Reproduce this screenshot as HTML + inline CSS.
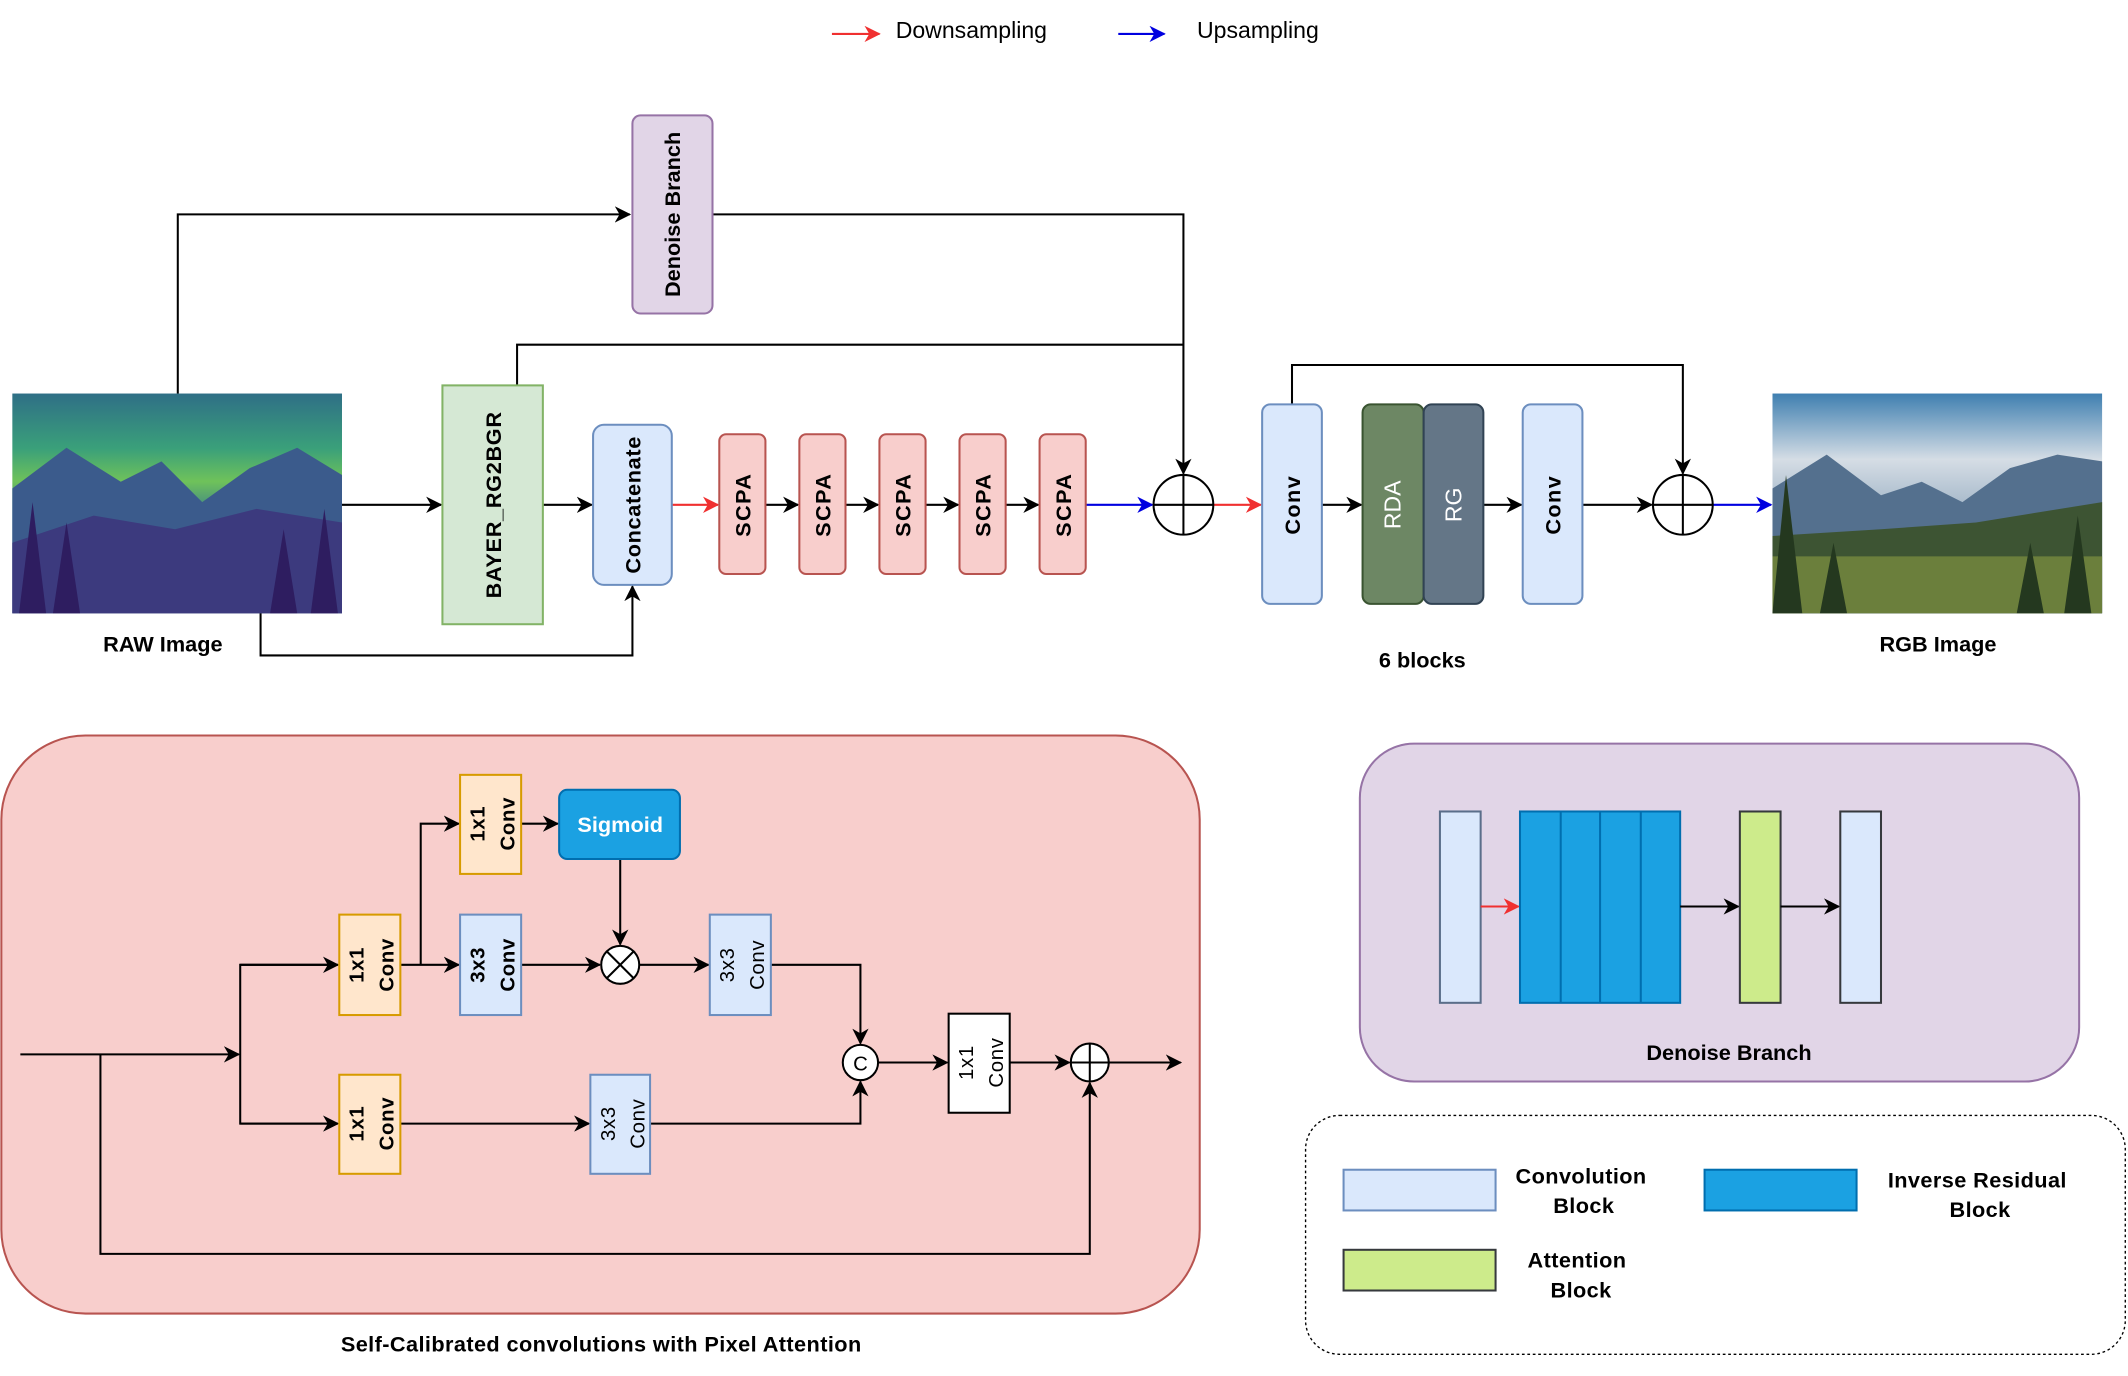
<!DOCTYPE html>
<html><head><meta charset="utf-8"><style>
html,body{margin:0;padding:0;background:#fff;}
svg{display:block;}
text{font-family:"Liberation Sans",Arial,sans-serif;}
.b{font-weight:bold;}
</style></head><body>
<svg width="2128" height="1376" viewBox="0 0 1568 1014" preserveAspectRatio="none" xmlns="http://www.w3.org/2000/svg">
<defs>
<marker id="ak" markerWidth="12" markerHeight="12" refX="11" refY="6" orient="auto" markerUnits="userSpaceOnUse"><path d="M0,0 L12,6 L0,12 L3.5,6 z" fill="#000"/></marker>
<marker id="ar" markerWidth="12" markerHeight="12" refX="11" refY="6" orient="auto" markerUnits="userSpaceOnUse"><path d="M0,0 L12,6 L0,12 L3.5,6 z" fill="#f03030"/></marker>
<marker id="ab" markerWidth="12" markerHeight="12" refX="11" refY="6" orient="auto" markerUnits="userSpaceOnUse"><path d="M0,0 L12,6 L0,12 L3.5,6 z" fill="#0000e0"/></marker>
<linearGradient id="raw" x1="0" y1="0" x2="0" y2="1">
<stop offset="0" stop-color="#2f6f86"/><stop offset="0.25" stop-color="#3aa07a"/><stop offset="0.4" stop-color="#6fc25a"/><stop offset="0.55" stop-color="#3a7e8a"/><stop offset="1" stop-color="#35236a"/></linearGradient>
<linearGradient id="rgb" x1="0" y1="0" x2="0" y2="1">
<stop offset="0" stop-color="#3f7fb0"/><stop offset="0.3" stop-color="#d5dde5"/><stop offset="0.55" stop-color="#9fb3c6"/><stop offset="1" stop-color="#8a9a70"/></linearGradient>
</defs>

<!-- legend top -->
<line x1="613" y1="25" x2="648" y2="25" stroke="#f03030" stroke-width="1.5" marker-end="url(#ar)"/>
<text x="660" y="28" font-size="17">Downsampling</text>
<line x1="824" y1="25" x2="858" y2="25" stroke="#0000e0" stroke-width="1.5" marker-end="url(#ab)"/>
<text x="882" y="28" font-size="17">Upsampling</text>

<!-- images -->
<svg x="9" y="290" width="243" height="162" viewBox="0 0 243 162" preserveAspectRatio="none">
<rect width="243" height="162" fill="url(#raw)"/>
<polygon points="0,70 40,40 80,65 110,50 140,80 175,55 210,40 243,60 243,162 0,162" fill="#3b5b8c"/>
<polygon points="0,110 60,90 120,100 180,85 243,95 243,162 0,162" fill="#3c3a7e"/>
<polygon points="5,162 15,80 25,162 30,162 40,95 50,162 190,162 200,100 210,162 220,162 230,85 240,162" fill="#2e1d60"/>
</svg>
<svg x="1306" y="290" width="243" height="162" viewBox="0 0 243 162" preserveAspectRatio="none">
<rect width="243" height="162" fill="url(#rgb)"/>
<polygon points="0,70 40,45 80,75 110,65 140,80 175,55 210,45 243,50 243,162 0,162" fill="#54708e"/>
<polygon points="0,105 80,100 150,95 243,80 243,162 0,162" fill="#3d5433"/>
<rect x="0" y="120" width="243" height="42" fill="#6b7f3c"/>
<polygon points="0,162 10,60 22,162 35,162 45,110 55,162 180,162 190,110 200,162 215,162 225,90 235,162" fill="#24381f"/>
</svg>
<text x="120" y="480" font-size="16" class="b" text-anchor="middle">RAW Image</text>
<text x="1428" y="480" font-size="16" class="b" text-anchor="middle">RGB Image</text>
<text x="1048" y="492" font-size="16" class="b" text-anchor="middle">6 blocks</text>

<!-- connectors top -->
<g fill="none" stroke="#000" stroke-width="1.5">
<polyline points="131,290 131,158 464,158" marker-end="url(#ak)"/>
<polyline points="525,158 872,158 872,349" marker-end="url(#ak)"/>
<polyline points="381,284 381,254 872,254"/>
<line x1="252" y1="372" x2="325" y2="372" marker-end="url(#ak)"/>
<line x1="400" y1="372" x2="436" y2="372" marker-end="url(#ak)"/>
<polyline points="192,452 192,483 466,483 466,432" marker-end="url(#ak)"/>
<line x1="564" y1="372" x2="588" y2="372" marker-end="url(#ak)"/>
<line x1="623" y1="372" x2="647" y2="372" marker-end="url(#ak)"/>
<line x1="682" y1="372" x2="706" y2="372" marker-end="url(#ak)"/>
<line x1="741" y1="372" x2="765" y2="372" marker-end="url(#ak)"/>
<line x1="974" y1="372" x2="1003" y2="372" marker-end="url(#ak)"/>
<line x1="1093" y1="372" x2="1121" y2="372" marker-end="url(#ak)"/>
<line x1="1166" y1="372" x2="1217" y2="372" marker-end="url(#ak)"/>
<polyline points="952,298 952,269 1240,269 1240,349" marker-end="url(#ak)"/>
</g>
<line x1="495" y1="372" x2="529" y2="372" stroke="#f03030" stroke-width="1.5" marker-end="url(#ar)"/>
<line x1="800" y1="372" x2="849" y2="372" stroke="#0000e0" stroke-width="1.5" marker-end="url(#ab)"/>
<line x1="894" y1="372" x2="929" y2="372" stroke="#f03030" stroke-width="1.5" marker-end="url(#ar)"/>
<line x1="1262" y1="372" x2="1305" y2="372" stroke="#0000e0" stroke-width="1.5" marker-end="url(#ab)"/>

<!-- boxes top -->
<rect x="466" y="85" width="59" height="146" rx="6" fill="#e1d5e7" stroke="#9673a6" stroke-width="1.5"/>
<text transform="translate(501,158) rotate(-90)" font-size="16" class="b" text-anchor="middle">Denoise Branch</text>
<rect x="326" y="284" width="74" height="176" fill="#d5e8d4" stroke="#82b366" stroke-width="1.5"/>
<text transform="translate(369,372) rotate(-90)" font-size="16" class="b" text-anchor="middle" letter-spacing="0.5">BAYER_RG2BGR</text>
<rect x="437" y="313" width="58" height="118" rx="8" fill="#dae8fc" stroke="#6c8ebf" stroke-width="1.5"/>
<text transform="translate(472,372) rotate(-90)" font-size="16" class="b" text-anchor="middle" letter-spacing="0.5">Concatenate</text>
<g fill="#f8cecc" stroke="#b85450" stroke-width="1.5">
<rect x="530" y="320" width="34" height="103" rx="5"/><rect x="589" y="320" width="34" height="103" rx="5"/><rect x="648" y="320" width="34" height="103" rx="5"/><rect x="707" y="320" width="34" height="103" rx="5"/><rect x="766" y="320" width="34" height="103" rx="5"/>
</g>
<g font-size="16" class="b" text-anchor="middle" letter-spacing="1">
<text transform="translate(553,372) rotate(-90)">SCPA</text>
<text transform="translate(612,372) rotate(-90)">SCPA</text>
<text transform="translate(671,372) rotate(-90)">SCPA</text>
<text transform="translate(730,372) rotate(-90)">SCPA</text>
<text transform="translate(789,372) rotate(-90)">SCPA</text>
</g>
<circle cx="872" cy="372" r="22" fill="#fff" stroke="#000" stroke-width="1.5"/>
<line x1="850" y1="372" x2="894" y2="372" stroke="#000" stroke-width="1.5"/><line x1="872" y1="350" x2="872" y2="394" stroke="#000" stroke-width="1.5"/>
<rect x="930" y="298" width="44" height="147" rx="6" fill="#dae8fc" stroke="#6c8ebf" stroke-width="1.5"/>
<text transform="translate(958,372) rotate(-90)" font-size="16" class="b" text-anchor="middle" letter-spacing="1">Conv</text>
<rect x="1004" y="298" width="45" height="147" rx="6" fill="#6d8764" stroke="#3a5431" stroke-width="1.5"/>
<rect x="1049" y="298" width="44" height="147" rx="6" fill="#647687" stroke="#314354" stroke-width="1.5"/>
<text transform="translate(1032,372) rotate(-90)" font-size="17" fill="#fff" text-anchor="middle">RDA</text>
<text transform="translate(1077,372) rotate(-90)" font-size="17" fill="#fff" text-anchor="middle">RG</text>
<rect x="1122" y="298" width="44" height="147" rx="6" fill="#dae8fc" stroke="#6c8ebf" stroke-width="1.5"/>
<text transform="translate(1150,372) rotate(-90)" font-size="16" class="b" text-anchor="middle" letter-spacing="1">Conv</text>
<circle cx="1240" cy="372" r="22" fill="#fff" stroke="#000" stroke-width="1.5"/>
<line x1="1218" y1="372" x2="1262" y2="372" stroke="#000" stroke-width="1.5"/><line x1="1240" y1="350" x2="1240" y2="394" stroke="#000" stroke-width="1.5"/>

<!-- SCPA panel -->
<rect x="1" y="542" width="883" height="426" rx="62" fill="#f8cecc" stroke="#b85450" stroke-width="1.5"/>
<text x="443" y="996" font-size="16" class="b" text-anchor="middle" letter-spacing="0.3">Self-Calibrated convolutions with Pixel Attention</text>
<g fill="none" stroke="#000" stroke-width="1.5">
<line x1="15" y1="777" x2="176" y2="777" marker-end="url(#ak)"/>
<polyline points="74,777 74,924 803,924 803,798" marker-end="url(#ak)"/>
<polyline points="248,711 177,711 177,828 248,828"/>
<line x1="177" y1="711" x2="249" y2="711" marker-end="url(#ak)"/>
<line x1="177" y1="828" x2="249" y2="828" marker-end="url(#ak)"/>
<line x1="295" y1="711" x2="338" y2="711" marker-end="url(#ak)"/>
<polyline points="310,711 310,607 338,607" marker-end="url(#ak)"/>
<line x1="384" y1="607" x2="411" y2="607" marker-end="url(#ak)"/>
<line x1="457" y1="633" x2="457" y2="696" marker-end="url(#ak)"/>
<line x1="384" y1="711" x2="442" y2="711" marker-end="url(#ak)"/>
<line x1="471" y1="711" x2="522" y2="711" marker-end="url(#ak)"/>
<polyline points="568,711 634,711 634,769" marker-end="url(#ak)"/>
<line x1="295" y1="828" x2="434" y2="828" marker-end="url(#ak)"/>
<polyline points="479,828 634,828 634,797" marker-end="url(#ak)"/>
<line x1="647" y1="783" x2="698" y2="783" marker-end="url(#ak)"/>
<line x1="744" y1="783" x2="788" y2="783" marker-end="url(#ak)"/>
<line x1="817" y1="783" x2="870" y2="783" marker-end="url(#ak)"/>
</g>
<g stroke-width="1.5">
<rect x="250" y="674" width="45" height="74" fill="#ffe6cc" stroke="#d79b00"/>
<rect x="339" y="571" width="45" height="73" fill="#ffe6cc" stroke="#d79b00"/>
<rect x="250" y="792" width="45" height="73" fill="#ffe6cc" stroke="#d79b00"/>
<rect x="339" y="674" width="45" height="74" fill="#dae8fc" stroke="#6c8ebf"/>
<rect x="523" y="674" width="45" height="74" fill="#dae8fc" stroke="#6c8ebf"/>
<rect x="435" y="792" width="44" height="73" fill="#dae8fc" stroke="#6c8ebf"/>
<rect x="699" y="747" width="45" height="73" fill="#fff" stroke="#000"/>
<rect x="412" y="582" width="89" height="51" rx="6" fill="#1ba1e2" stroke="#006eaf"/>
</g>
<text x="457" y="613" font-size="16" class="b" fill="#fff" text-anchor="middle">Sigmoid</text>
<g font-size="15" text-anchor="middle" letter-spacing="0.5">
<text transform="translate(268,711) rotate(-90)" class="b">1x1</text><text transform="translate(290,711) rotate(-90)" class="b">Conv</text>
<text transform="translate(357,607) rotate(-90)" class="b">1x1</text><text transform="translate(379,607) rotate(-90)" class="b">Conv</text>
<text transform="translate(268,828) rotate(-90)" class="b">1x1</text><text transform="translate(290,828) rotate(-90)" class="b">Conv</text>
<text transform="translate(357,711) rotate(-90)" class="b">3x3</text><text transform="translate(379,711) rotate(-90)" class="b">Conv</text>
<text transform="translate(541,711) rotate(-90)">3x3</text><text transform="translate(563,711) rotate(-90)">Conv</text>
<text transform="translate(453,828) rotate(-90)">3x3</text><text transform="translate(475,828) rotate(-90)">Conv</text>
<text transform="translate(717,783) rotate(-90)">1x1</text><text transform="translate(739,783) rotate(-90)">Conv</text>
</g>
<circle cx="457" cy="711" r="14" fill="#fff" stroke="#000" stroke-width="1.5"/>
<line x1="447" y1="701" x2="467" y2="721" stroke="#000" stroke-width="1.5"/><line x1="467" y1="701" x2="447" y2="721" stroke="#000" stroke-width="1.5"/>
<circle cx="634" cy="783" r="13" fill="#fff" stroke="#000" stroke-width="1.5"/>
<text x="634" y="789" font-size="15" text-anchor="middle">C</text>
<circle cx="803" cy="783" r="14" fill="#fff" stroke="#000" stroke-width="1.5"/>
<line x1="789" y1="783" x2="817" y2="783" stroke="#000" stroke-width="1.5"/><line x1="803" y1="769" x2="803" y2="797" stroke="#000" stroke-width="1.5"/>

<!-- Denoise panel -->
<rect x="1002" y="548" width="530" height="249" rx="40" fill="#e1d5e7" stroke="#9673a6" stroke-width="1.5"/>
<text x="1274" y="781" font-size="16" class="b" text-anchor="middle">Denoise Branch</text>
<rect x="1061" y="598" width="30" height="141" fill="#dae8fc" stroke="#5a6e8a" stroke-width="1.5"/>
<line x1="1091" y1="668" x2="1119" y2="668" stroke="#f03030" stroke-width="1.5" marker-end="url(#ar)"/>
<rect x="1120" y="598" width="118" height="141" fill="#1ba1e2" stroke="#006eaf" stroke-width="1.5"/>
<g stroke="#006eaf" stroke-width="1.5"><line x1="1150" y1="598" x2="1150" y2="739"/><line x1="1179" y1="598" x2="1179" y2="739"/><line x1="1209" y1="598" x2="1209" y2="739"/></g>
<line x1="1238" y1="668" x2="1281" y2="668" stroke="#000" stroke-width="1.5" marker-end="url(#ak)"/>
<rect x="1282" y="598" width="30" height="141" fill="#cdeb8b" stroke="#36393d" stroke-width="1.5"/>
<line x1="1312" y1="668" x2="1355" y2="668" stroke="#000" stroke-width="1.5" marker-end="url(#ak)"/>
<rect x="1356" y="598" width="30" height="141" fill="#dae8fc" stroke="#36393d" stroke-width="1.5"/>

<!-- legend box -->
<rect x="962" y="822" width="604" height="176" rx="25" fill="#fff" stroke="#000" stroke-width="1" stroke-dasharray="2,2"/>
<rect x="990" y="862" width="112" height="30" fill="#dae8fc" stroke="#6c8ebf" stroke-width="1.5"/>
<rect x="1256" y="862" width="112" height="30" fill="#1ba1e2" stroke="#006eaf" stroke-width="1.5"/>
<rect x="990" y="921" width="112" height="30" fill="#cdeb8b" stroke="#36393d" stroke-width="1.5"/>
<g font-size="16" class="b" text-anchor="middle" letter-spacing="0.3">
<text x="1165" y="872">Convolution</text><text x="1167" y="894">Block</text>
<text x="1457" y="875">Inverse Residual</text><text x="1459" y="897">Block</text>
<text x="1162" y="934">Attention</text><text x="1165" y="956">Block</text>
</g>
</svg>
</body></html>
